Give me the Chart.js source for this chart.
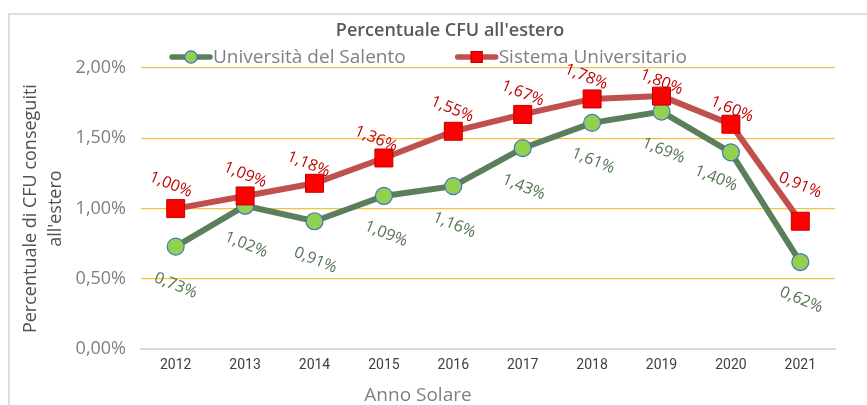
<!DOCTYPE html>
<html>
<head>
<meta charset="utf-8">
<script src="https://cdn.jsdelivr.net/npm/chart.js@4"></script>
<style>
  html, body { margin: 0; padding: 0; background: #fff; }
  #frame { position: absolute; left: 8px; top: 13px; width: 859px; height: 392px;
           border-left: 2px solid #dedede; border-top: 2px solid #dedede; }
  #wrap { position: absolute; left: 0; top: 0; width: 867px; height: 405px; }
</style>
</head>
<body>
<div id="frame"></div>
<div id="wrap"><canvas id="cfuChart" width="867" height="405"></canvas></div>
<script>
// dati (valori in %)
const anni = ['2012', '2013', '2014', '2015', '2016', '2017', '2018', '2019', '2020', '2021'];
const unisalento = [0.73, 1.02, 0.91, 1.09, 1.16, 1.43, 1.61, 1.69, 1.40, 0.62];
const sistema = [1.00, 1.09, 1.18, 1.36, 1.55, 1.67, 1.78, 1.80, 1.60, 0.91];
const yTicks = [0, 0.5, 1.0, 1.5, 2.0];

// spostamenti delle etichette (px) come nel foglio originale
const greenLabelDx = [0, 1, 1, 2, 1, 1, 1, 2, -15, 1];
const greenLabelDy = [39, 39, 39, 38, 39, 39, 38, 39, 26, 38];
const redLabelDx = [-5, 0, -6, -8, -1, 0, -6, 0, 1, 0];
const redLabelDy = [-24, -21, -19, -19, -22, -21, -22, -14, -15, -36];

const GREEN_LINE = '#5b7f5b';
const RED_LINE = '#c0504d';

const fmt = v => v.toFixed(2).replace('.', ',') + '%';

// title, legend, x title and rotated data labels
const decorations = {
    id: 'decorations',
    afterDatasetsDraw(chart) {
        const ctx = chart.ctx;
        chart.data.datasets.forEach((ds, i) => {
            const meta = chart.getDatasetMeta(i);
            const o = ds.labelOpts;
            meta.data.forEach((pt, j) => {
                ctx.save();
                ctx.translate(pt.x + o.dx[j], pt.y + o.dy[j]);
                ctx.rotate(22 * Math.PI / 180);
                ctx.font = '500 16px "Open Sans"';
                ctx.fillStyle = o.color;
                ctx.textAlign = 'center';
                ctx.textBaseline = 'middle';
                ctx.fillText(fmt(ds.data[j]), 0, 0);
                ctx.restore();
            });
        });
    },
    afterDraw(chart) {
        const ctx = chart.ctx;
        ctx.save();
        ctx.textBaseline = 'middle';
        // title
        ctx.font = '600 18px "Open Sans"';
        ctx.fillStyle = '#595959';
        ctx.textAlign = 'center';
        ctx.fillText("Percentuale CFU all'estero", 450, 31);
        // x axis title
        ctx.font = '19px "Open Sans"';
        ctx.fillStyle = '#808080';
        ctx.fillText('Anno Solare', 418, 396);
        // legend
        ctx.font = '19px "Open Sans"';
        ctx.textAlign = 'left';
        let x = 170;
        const y = 57;
        chart.data.datasets.forEach(ds => {
            ctx.strokeStyle = ds.borderColor;
            ctx.lineWidth = 5.5;
            ctx.lineCap = 'round';
            ctx.beginPath(); ctx.moveTo(x + 2, y); ctx.lineTo(x + 40, y); ctx.stroke();
            if (ds.pointStyle === 'circle') {
                ctx.beginPath(); ctx.arc(x + 21, y, 6.2, 0, Math.PI * 2);
                ctx.fillStyle = ds.pointBackgroundColor; ctx.fill();
                ctx.lineWidth = 1.2; ctx.strokeStyle = ds.pointBorderColor; ctx.stroke();
            } else {
                ctx.fillStyle = ds.pointBackgroundColor; ctx.fillRect(x + 15, y - 6, 12, 12);
                ctx.lineWidth = 1; ctx.strokeStyle = ds.pointBorderColor; ctx.strokeRect(x + 15.5, y - 5.5, 11, 11);
            }
            ctx.fillStyle = '#808080';
            ctx.fillText(ds.label, x + 43, y + 1);
            x += 43 + ctx.measureText(ds.label).width + 50;
        });
        ctx.restore();
    }
};

new Chart(document.getElementById('cfuChart'), {
    type: 'line',
    data: {
        labels: anni,
        datasets: [{
            label: 'Università del Salento',
            data: unisalento,
            borderColor: GREEN_LINE,
            borderWidth: 6,
            pointStyle: 'circle',
            pointRadius: 8.5,
            pointBackgroundColor: '#92d050',
            pointBorderColor: '#4472c4',
            pointBorderWidth: 1.2,
            labelOpts: { dx: greenLabelDx, dy: greenLabelDy, color: '#527352' },
            order: 2
        }, {
            label: 'Sistema Universitario',
            data: sistema,
            borderColor: RED_LINE,
            borderWidth: 6,
            pointStyle: 'rect',
            pointRadius: 12.7,
            pointBackgroundColor: '#ff0000',
            pointBorderColor: '#c00000',
            pointBorderWidth: 1,
            labelOpts: { dx: redLabelDx, dy: redLabelDy, color: '#c00000' },
            order: 1
        }]
    },
    options: {
        responsive: false,
        animation: false,
        layout: { padding: { left: 19, right: 32, top: 68, bottom: 23 } },
        plugins: {
            legend: { display: false },
            title: { display: false },
            tooltip: { enabled: false }
        },
        scales: {
            x: {
                offset: true,
                grid: { display: false, drawTicks: false },
                border: { color: '#d9d9d9', width: 2 },
                ticks: { color: '#404040', font: { family: 'Roboto', size: 14 }, padding: 8 }
            },
            y: {
                min: 0, max: 2,
                afterBuildTicks: s => { s.ticks = yTicks.map(v => ({ value: v })); },
                afterFit: s => { s.width = 122; },
                grid: {
                    drawTicks: false,
                    color: ctx => ctx.tick.value === 0 ? 'rgba(0,0,0,0)' : '#f5c243',
                    lineWidth: 1.2
                },
                border: { display: false },
                ticks: {
                    color: '#7f7f7f', font: { family: 'Open Sans', size: 18 }, padding: 15,
                    callback: v => fmt(v)
                },
                title: {
                    display: true, text: ['Percentuale di CFU conseguiti', "all'estero"],
                    color: '#505050', font: { family: 'Open Sans', size: 18, lineHeight: 1.35 }, padding: 0
                }
            }
        }
    },
    plugins: [decorations]
});
</script>
</body>
</html>
